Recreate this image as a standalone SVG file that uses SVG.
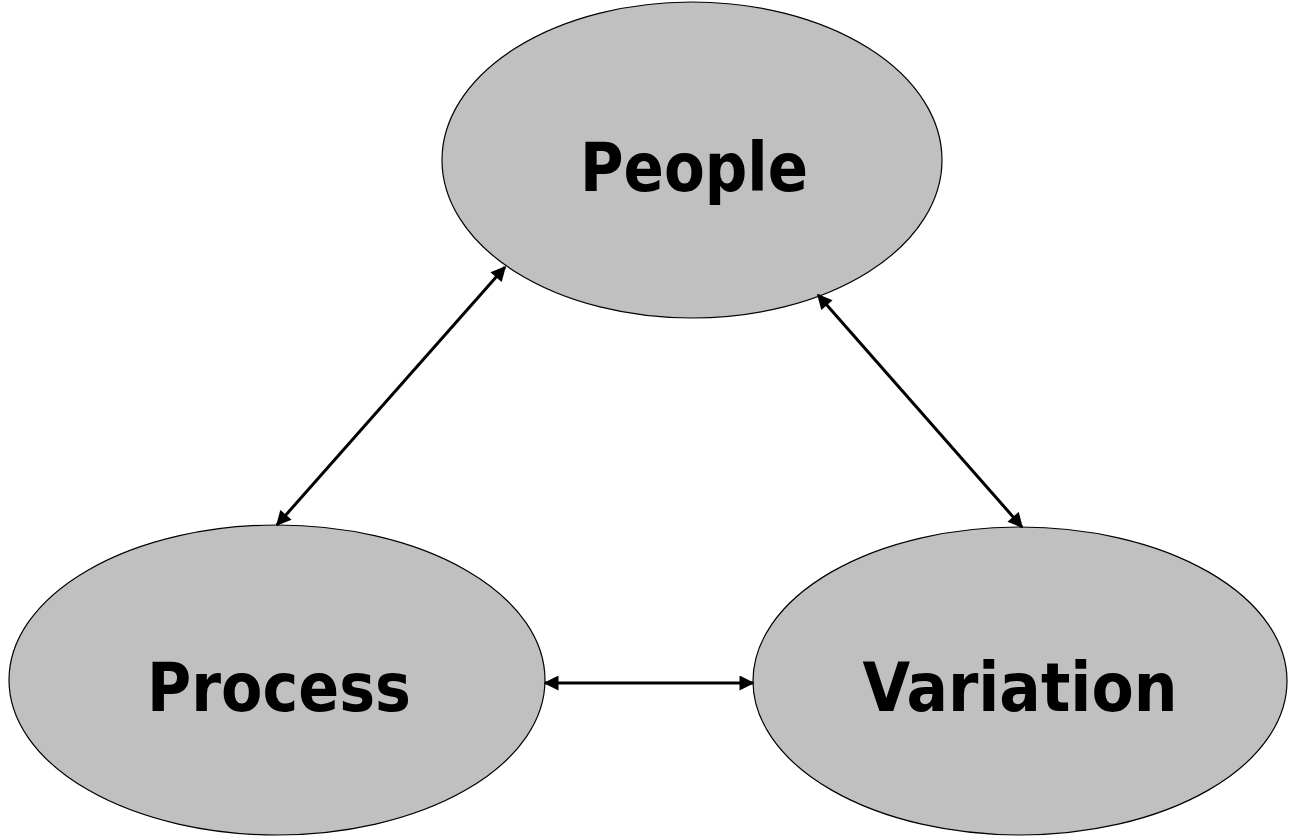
<svg xmlns="http://www.w3.org/2000/svg" width="1289" height="837" viewBox="0 0 1289 837">
<style>
.node ellipse{fill:#C0C0C0;stroke:#000;stroke-width:1.2}
.node text{font-family:"DejaVu Sans Condensed","DejaVu Sans",Verdana,sans-serif;font-weight:bold;font-size:68px;fill:#000;text-anchor:middle}
.conn line{stroke:#000;stroke-width:3;marker-start:url(#ah);marker-end:url(#ah)}
</style>
<defs>
<marker id="ah" viewBox="0 0 10 10" refX="9" refY="5" markerWidth="5.5" markerHeight="5" markerUnits="strokeWidth" orient="auto-start-reverse">
<path d="M0,0 L10,5 L0,10 Z" fill="#000"/>
</marker>
</defs>
<rect width="1289" height="837" fill="#fff"/>
<g id="people" class="node">
<ellipse cx="692" cy="160" rx="250" ry="158"/>
<text x="694" y="191" textLength="228" lengthAdjust="spacingAndGlyphs">People</text>
</g>
<g id="process" class="node">
<ellipse cx="277" cy="680" rx="268" ry="155"/>
<text x="279" y="711" textLength="264" lengthAdjust="spacingAndGlyphs">Process</text>
</g>
<g id="variation" class="node">
<ellipse cx="1020" cy="681" rx="267" ry="154"/>
<text x="1020" y="711" textLength="315" lengthAdjust="spacingAndGlyphs">Variation</text>
</g>
<g id="connectors" class="conn">
<line x1="505" y1="267" x2="277" y2="525"/>
<line x1="818" y1="295" x2="1022" y2="527"/>
<line x1="545" y1="683" x2="753" y2="683"/>
</g>
</svg>
